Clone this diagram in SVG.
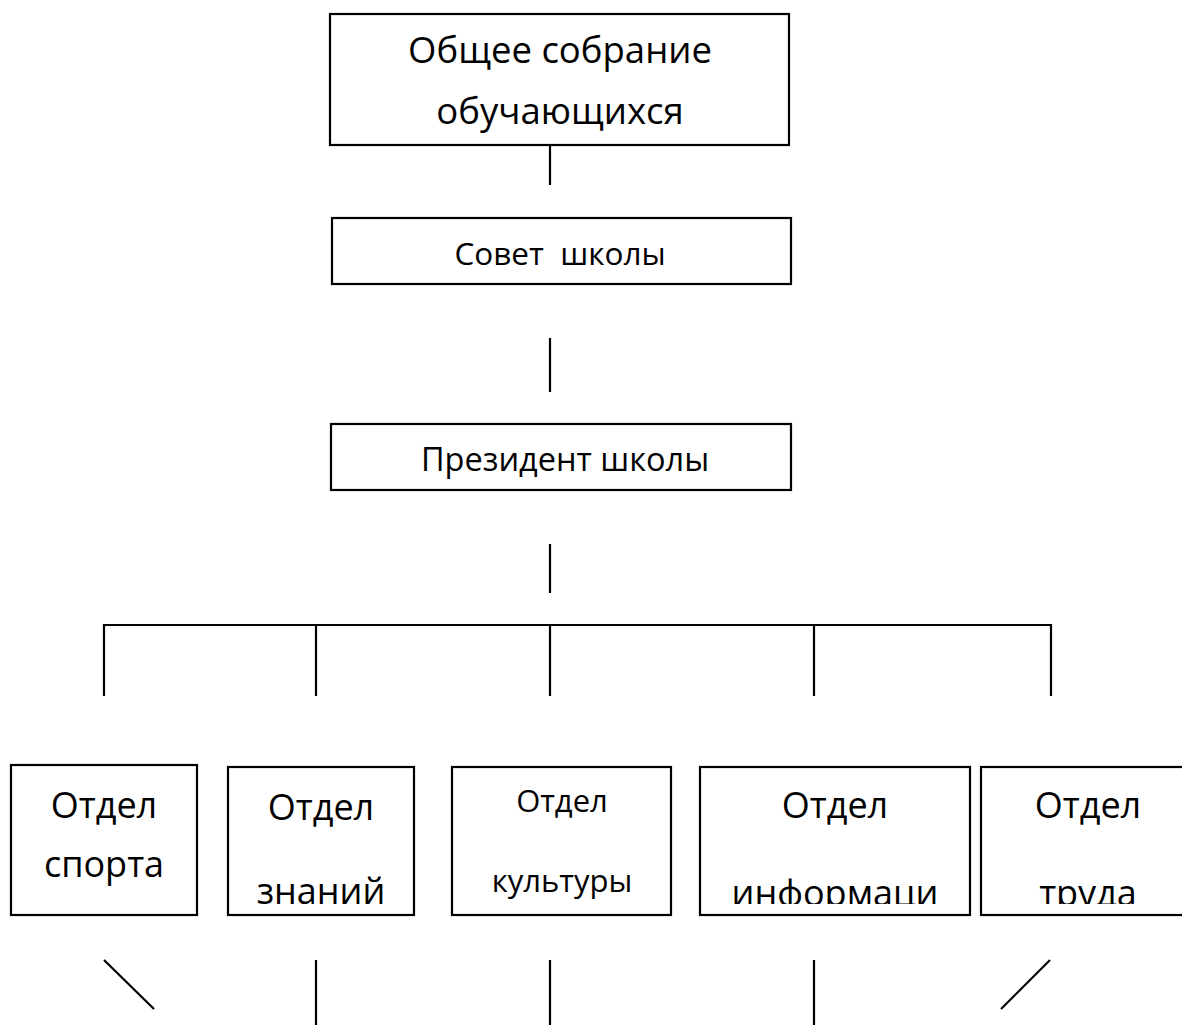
<svg xmlns="http://www.w3.org/2000/svg" width="1182" height="1025" viewBox="0 0 1182 1025">
<style>
.box{fill:#fff;stroke:#000;stroke-width:2.2}
.ln{stroke:#000;stroke-width:2.2;fill:none}
text{font-family:"Open Sans","Noto Sans",sans-serif;fill:#000;text-anchor:middle}
</style>
<defs>
<clipPath id="c4"><rect x="700" y="767" width="270" height="137"/></clipPath>
<clipPath id="c5"><rect x="981" y="767" width="210" height="137"/></clipPath>
</defs>
<rect width="1182" height="1025" fill="#fff"/>
<g id="connectors">
<line class="ln" x1="550" y1="145" x2="550" y2="185"/>
<line class="ln" x1="550" y1="338" x2="550" y2="392"/>
<line class="ln" x1="550" y1="544" x2="550" y2="593"/>
<polyline class="ln" points="104,696 104,625 1051,625 1051,696"/>
<line class="ln" x1="316" y1="625" x2="316" y2="696"/>
<line class="ln" x1="550" y1="625" x2="550" y2="696"/>
<line class="ln" x1="814" y1="625" x2="814" y2="696"/>
<line class="ln" x1="104" y1="960" x2="154" y2="1009"/>
<line class="ln" x1="316" y1="960" x2="316" y2="1025"/>
<line class="ln" x1="550" y1="960" x2="550" y2="1025"/>
<line class="ln" x1="814" y1="960" x2="814" y2="1025"/>
<line class="ln" x1="1050" y1="960" x2="1001" y2="1009"/>
</g>
<g id="n-assembly">
<rect class="box" x="330" y="14" width="459" height="131"/>
<text x="560" y="63" font-size="36.5">Общее собрание</text>
<text x="560" y="124" font-size="36.5">обучающихся</text>
</g>
<g id="n-council">
<rect class="box" x="332" y="218" width="459" height="66"/>
<text x="560" y="265" font-size="31.5" xml:space="preserve">Совет  школы</text>
</g>
<g id="n-president">
<rect class="box" x="331" y="424" width="460" height="66"/>
<text x="565" y="471" font-size="32.5">Президент школы</text>
</g>
<g id="n-sport">
<rect class="box" x="11" y="765" width="186" height="150"/>
<text x="104" y="818" font-size="36">Отдел</text>
<text x="104" y="877" font-size="36">спорта</text>
</g>
<g id="n-knowledge">
<rect class="box" x="228" y="767" width="186" height="148"/>
<text x="321" y="820" font-size="36">Отдел</text>
<text x="321" y="904" font-size="36">знаний</text>
</g>
<g id="n-culture">
<rect class="box" x="452" y="767" width="219" height="148"/>
<text x="562" y="812" font-size="31">Отдел</text>
<text x="562" y="892" font-size="31">культуры</text>
</g>
<g id="n-info">
<rect class="box" x="700" y="767" width="270" height="148"/>
<text x="835" y="818" font-size="36">Отдел</text>
<text x="835" y="906" font-size="36" clip-path="url(#c4)">информаци</text>
</g>
<g id="n-labour">
<rect class="box" x="981" y="767" width="210" height="148"/>
<text x="1088" y="818" font-size="36">Отдел</text>
<text x="1088" y="906" font-size="36" clip-path="url(#c5)">труда</text>
</g>
</svg>
